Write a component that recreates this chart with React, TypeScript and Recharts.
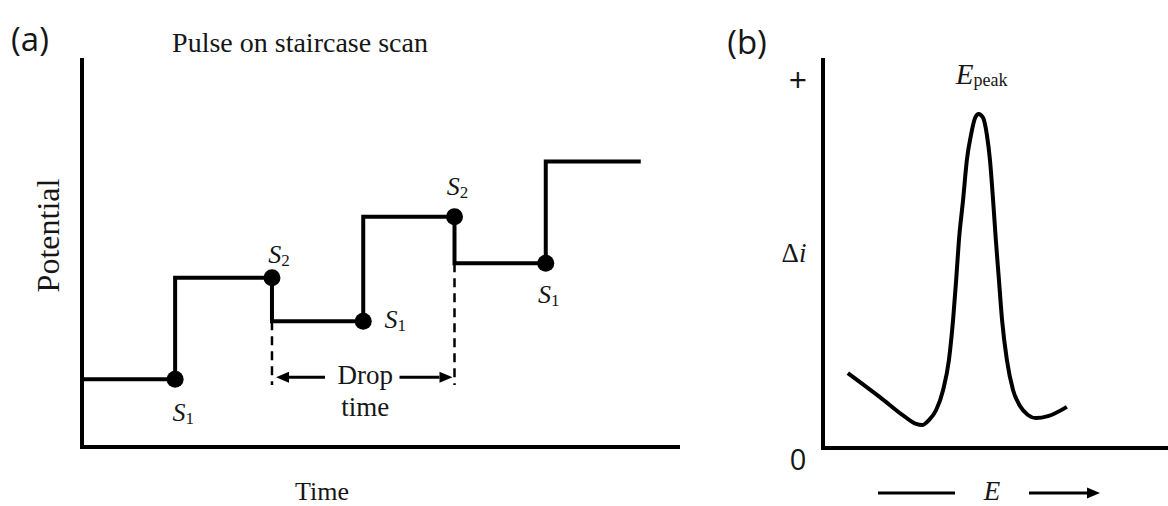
import React from "react";
import {
  ComposedChart,
  Line,
  XAxis,
  YAxis,
  ReferenceLine,
  ReferenceDot,
} from "recharts";

// (a) pulse-on-staircase waveform: start time of each step and its potential
const STEP_TIMES = [0, 1, 2.04, 3.02, 4, 4.98, 6];
const STEP_LEVELS = [70, 175, 130, 238, 190, 295, 295];

// current sampling points on the waveform (S1 = before pulse, S2 = end of pulse)
const SAMPLE_TIMES = [1, 2.04, 3.02, 4, 4.98];
const SAMPLE_LEVELS = [70, 175, 130, 238, 190];
const SAMPLE_INDEX = ["1", "2", "1", "2", "1"];

// one drop period, between the two pulse ends
const DROP_START = 2.04;
const DROP_END = 4;
const DROP_MARK_BOTTOM = 64;
const DROP_ARROW_LEVEL = 72;

// (b) differential current vs potential
const E_VALUES = [
  0.72, 1.65, 2.38, 2.7, 2.87, 3.07, 3.28, 3.48, 3.65, 3.77, 3.86, 3.94,
  4.06, 4.17, 4.29, 4.41, 4.51, 4.64, 4.75, 4.84, 4.93, 5.01, 5.1, 5.19,
  5.33, 5.51, 5.71, 5.94, 6.17, 6.52, 7.07,
];
const DI_VALUES = [
  1.93, 1.31, 0.8, 0.62, 0.59, 0.72, 0.98, 1.49, 2.27, 3.3, 4.33, 5.36,
  6.39, 7.42, 8.07, 8.51, 8.61, 8.51, 8.07, 7.42, 6.39, 5.36, 4.33, 3.3,
  2.27, 1.49, 1.08, 0.85, 0.77, 0.82, 1.06,
];
const DI_TICKS = [0, 9.5];
const DI_TICK_TEXT = ["0", "+"];

const stairData = STEP_TIMES.map((t, i) => ({ t, v: STEP_LEVELS[i] }));
const peakData = E_VALUES.map((e, i) => ({ e, di: DI_VALUES[i] }));
const peakIdx = DI_VALUES.indexOf(Math.max(...DI_VALUES));

const INK = "#000";
const TEXT = "#161616";
const SERIF = "'Liberation Serif', 'Times New Roman', serif";
const SANS = "'Open Sans', 'Noto Sans', sans-serif";
const AXIS_LINE = { stroke: INK, strokeWidth: 4, strokeLinecap: "square" as const };

// label nudges for each sample point (dx, dy from dot centre)
const SAMPLE_LABEL_SHIFT = [
  [8, 33],
  [7, -24],
  [32, -2],
  [3, -31],
  [3, 31],
];

function Arrow({ from, to, y, w = 3 }: { from: number; to: number; y: number; w?: number }) {
  const dir = to > from ? 1 : -1;
  const head = 13;
  const base = to - dir * head;
  return (
    <g>
      <line x1={from} y1={y} x2={base} y2={y} stroke={INK} strokeWidth={w} />
      <polygon points={`${to},${y} ${base},${y - 5.5} ${base},${y + 5.5}`} fill={INK} />
    </g>
  );
}

function DropTimeMarker(props: any) {
  const { x1, y1, x2 } = props;
  const mid = (x1 + x2) / 2;
  return (
    <g>
      <Arrow from={x1 + 53} to={x1 + 4} y={y1} />
      <Arrow from={x2 - 55} to={x2 - 2} y={y1} />
      <text x={mid + 2} y={y1 - 2} textAnchor="middle" dominantBaseline="central" fontFamily={SERIF} fontSize={27} fill={TEXT}>
        Drop
      </text>
      <text x={mid + 2} y={y1 + 30} textAnchor="middle" dominantBaseline="central" fontFamily={SERIF} fontSize={27} fill={TEXT}>
        time
      </text>
    </g>
  );
}

function SampleDot(props: any, i: number) {
  const { cx, cy } = props;
  const [dx, dy] = SAMPLE_LABEL_SHIFT[i];
  return (
    <g>
      <circle cx={cx} cy={cy} r={8.5} fill={INK} />
      <text x={cx + dx} y={cy + dy} textAnchor="middle" dominantBaseline="central" fontFamily={SERIF} fill={TEXT}>
        <tspan fontStyle="italic" fontSize={26}>S</tspan>
        <tspan fontSize={17} dy={6}>{SAMPLE_INDEX[i]}</tspan>
      </text>
    </g>
  );
}

function TimeLabel(props: any) {
  const vb = props.viewBox;
  return (
    <text x={vb.x + 240} y={vb.y + 44} textAnchor="middle" dominantBaseline="central" fontFamily={SERIF} fontSize={26} fill={TEXT}>
      Time
    </text>
  );
}

function PotentialLabel(props: any) {
  const vb = props.viewBox;
  const x = vb.x + vb.width - 34;
  const y = vb.y + vb.height / 2 - 18;
  return (
    <text x={x} y={y} transform={`rotate(-90 ${x} ${y})`} textAnchor="middle" dominantBaseline="central" fontFamily={SERIF} fontSize={32} fill={TEXT}>
      Potential
    </text>
  );
}

function DeltaILabel(props: any) {
  const vb = props.viewBox;
  return (
    <text x={vb.x + vb.width - 29} y={vb.y + vb.height / 2 - 1} textAnchor="middle" dominantBaseline="central" fontFamily={SERIF} fontSize={27} fill={TEXT}>
      Δ<tspan fontStyle="italic">i</tspan>
    </text>
  );
}

function EAxisLabel(props: any) {
  const vb = props.viewBox;
  const y = vb.y + 45;
  return (
    <g>
      <line x1={vb.x + 55} y1={y} x2={vb.x + 132} y2={y} stroke={INK} strokeWidth={3} />
      <text x={vb.x + 169} y={y - 2} textAnchor="middle" dominantBaseline="central" fontFamily={SERIF} fontStyle="italic" fontSize={27} fill={TEXT}>
        E
      </text>
      <Arrow from={vb.x + 206} to={vb.x + 277} y={y} />
    </g>
  );
}

function SignTick(props: any) {
  const { x, y, payload } = props;
  const i = DI_TICKS.indexOf(payload.value);
  const isZero = payload.value === 0;
  return (
    <text x={x - 17} y={isZero ? y + 10 : y} textAnchor="middle" dominantBaseline="central" fontFamily={SANS} fontSize={isZero ? 29 : 32} fill={TEXT}>
      {DI_TICK_TEXT[i]}
    </text>
  );
}

function PeakLabel(props: any) {
  const { cx, cy } = props;
  return (
    <text x={cx + 3} y={cy - 40} textAnchor="middle" dominantBaseline="central" fontFamily={SERIF} fill={TEXT}>
      <tspan fontStyle="italic" fontSize={29}>E</tspan>
      <tspan fontSize={18} dy={6}>peak</tspan>
    </text>
  );
}

const overlay = (x: number, y: number, extra: React.CSSProperties): React.CSSProperties => ({
  position: "absolute",
  left: x,
  top: y,
  transform: "translate(-50%, -50%)",
  lineHeight: 1,
  whiteSpace: "nowrap",
  color: TEXT,
  zIndex: 2,
  ...extra,
});

function StaircasePanel() {
  return (
    <div style={{ position: "absolute", left: 0, top: 0 }}>
      <ComposedChart width={700} height={506} data={stairData} margin={{ top: 60, right: 22, bottom: 29, left: 0 }}>
        <XAxis
          type="number"
          dataKey="t"
          domain={[0, 6.4]}
          tick={false}
          tickLine={false}
          axisLine={AXIS_LINE}
          height={30}
          label={{ content: TimeLabel }}
        />
        <YAxis
          type="number"
          domain={[0, 400]}
          tick={false}
          tickLine={false}
          axisLine={AXIS_LINE}
          width={82}
          label={{ content: PotentialLabel }}
        />
        <ReferenceLine
          segment={[{ x: DROP_START, y: STEP_LEVELS[2] }, { x: DROP_START, y: DROP_MARK_BOTTOM }]}
          stroke={INK}
          strokeWidth={2.5}
          strokeDasharray="9 6"
        />
        <ReferenceLine
          segment={[{ x: DROP_END, y: STEP_LEVELS[4] }, { x: DROP_END, y: DROP_MARK_BOTTOM }]}
          stroke={INK}
          strokeWidth={2.5}
          strokeDasharray="9 6"
        />
        <ReferenceLine
          segment={[{ x: DROP_START, y: DROP_ARROW_LEVEL }, { x: DROP_END, y: DROP_ARROW_LEVEL }]}
          shape={DropTimeMarker}
        />
        <Line
          type="stepAfter"
          dataKey="v"
          stroke={INK}
          strokeWidth={4}
          dot={false}
          isAnimationActive={false}
        />
        {SAMPLE_TIMES.map((t, i) => (
          <ReferenceDot key={i} x={t} y={SAMPLE_LEVELS[i]} r={8.5} shape={(p: any) => SampleDot(p, i)} />
        ))}
      </ComposedChart>
    </div>
  );
}

function PeakPanel() {
  return (
    <div style={{ position: "absolute", left: 700, top: 0 }}>
      <ComposedChart width={468} height={506} data={peakData} margin={{ top: 60, right: 0, bottom: 28, left: 0 }}>
        <XAxis
          type="number"
          dataKey="e"
          domain={[0, 10]}
          tick={false}
          tickLine={false}
          axisLine={AXIS_LINE}
          height={30}
          label={{ content: EAxisLabel }}
        />
        <YAxis
          type="number"
          domain={[0, 10]}
          ticks={DI_TICKS}
          interval={0}
          tick={<SignTick />}
          tickLine={false}
          axisLine={AXIS_LINE}
          width={123}
          label={{ content: DeltaILabel }}
        />
        <Line
          type="monotone"
          dataKey="di"
          stroke={INK}
          strokeWidth={4}
          dot={false}
          isAnimationActive={false}
        />
        <ReferenceDot x={E_VALUES[peakIdx]} y={DI_VALUES[peakIdx]} r={0} shape={PeakLabel} />
      </ComposedChart>
    </div>
  );
}

export default function App() {
  return (
    <div style={{ position: "absolute", left: 0, top: 0, width: 1168, height: 506, background: "#fff", overflow: "hidden" }}>
      <StaircasePanel />
      <PeakPanel />
      <div style={overlay(30, 38, { fontFamily: SANS, fontSize: 33 })}>(a)</div>
      <div style={overlay(747, 41, { fontFamily: SANS, fontSize: 33 })}>(b)</div>
      <div style={overlay(300, 43, { fontFamily: SERIF, fontSize: 28 })}>Pulse on staircase scan</div>
    </div>
  );
}
